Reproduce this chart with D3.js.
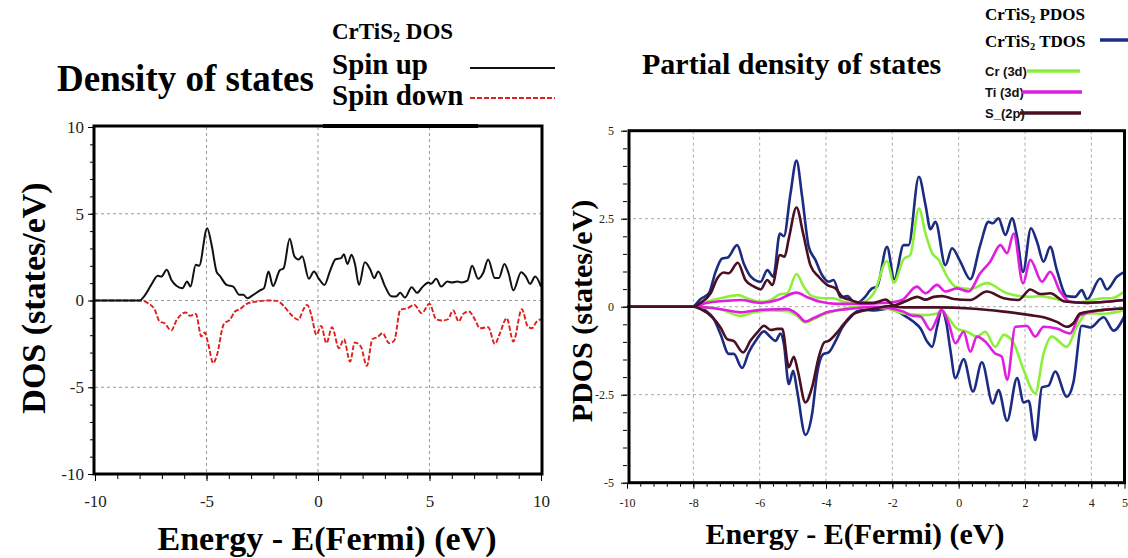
<!DOCTYPE html>
<html>
<head>
<meta charset="utf-8">
<title>CrTiS2 DOS / PDOS</title>
<script src="https://cdn.jsdelivr.net/npm/d3@7"></script>
<style>
  body { margin: 0; background: #fff; }
  svg { display: block; }
  .serif { font-family: "Liberation Serif", "Times New Roman", serif; }
  .sans { font-family: "Liberation Sans", Arial, sans-serif; }
</style>
</head>
<body>
<div id="chart"></div>
<script>
// ---- data ----

// left panel: total DOS, [energy, states/eV]
const spinUp = [[-10,0],[-8,0],[-7.78,0.27],[-7.48,0.9],[-7.18,1.42],[-7.03,1.38],[-6.78,1.77],[-6.58,1.2],[-6.35,0.85],
  [-6.08,0.71],[-5.87,1.1],[-5.72,0.8],[-5.48,2.06],[-5.33,2.0],[-4.97,4.17],[-4.77,3.2],[-4.55,1.67],[-4.4,1.42],
  [-4.1,0.9],[-3.8,0.8],[-3.53,0.33],[-3.35,0.33],[-3.17,0.13],[-2.9,0.33],[-2.6,0.58],[-2.42,0.71],[-2.22,1.67],
  [-2.02,0.83],[-1.72,1.73],[-1.54,1.86],[-1.27,3.56],[-1.06,2.55],[-0.87,2.36],[-0.71,2.55],[-0.41,1.25],[-0.18,1.67],
  [0.04,1.25],[0.29,0.9],[0.53,1.67],[0.79,2.38],[1.04,2.44],[1.16,2.67],[1.32,2.1],[1.5,2.63],[1.65,2.15],[1.84,0.9],
  [2.1,2.2],[2.34,1.8],[2.52,1.29],[2.7,1.67],[3.0,0.83],[3.28,0.25],[3.5,0.23],[3.69,0.44],[3.9,0.17],[4.2,0.77],
  [4.44,0.44],[4.7,0.8],[4.96,1.04],[5.07,0.96],[5.3,1.25],[5.52,0.8],[5.8,1.1],[6.0,1.04],[6.25,1.1],[6.42,1.04],
  [6.7,1.15],[6.91,2.0],[7.18,1.25],[7.41,1.6],[7.63,2.36],[7.93,1.29],[8.11,1.29],[8.36,2.1],[8.54,1.6],[8.76,0.58],
  [9.11,1.63],[9.32,1.38],[9.51,0.96],[9.74,1.38],[10,0.8]];

const spinDown = [[-10,0],[-8,0],[-7.63,-0.15],[-7.33,-0.5],[-7.1,-1.21],[-6.88,-1.31],[-6.58,-1.73],[-6.35,-1.15],
  [-5.93,-0.69],[-5.75,-0.88],[-5.48,-0.77],[-5.23,-2.07],[-5.08,-1.84],[-4.93,-2.46],[-4.7,-3.61],[-4.55,-3.23],
  [-4.22,-1.35],[-3.95,-1.11],[-3.72,-0.63],[-3.5,-0.5],[-3.2,-0.19],[-2.75,-0.06],[-2.29,0],[-1.84,-0.02],[-1.54,-0.31],
  [-1.24,-0.77],[-0.87,-1.11],[-0.68,-0.58],[-0.49,-0.25],[-0.3,-0.83],[-0.07,-1.98],[0.14,-1.46],[0.38,-2.46],
  [0.63,-1.54],[0.94,-2.75],[1.16,-2.23],[1.44,-3.52],[1.65,-2.42],[1.92,-2.65],[2.19,-3.77],[2.44,-2.23],[2.67,-2.11],
  [2.9,-1.88],[3.19,-2.46],[3.42,-2.31],[3.69,-0.54],[4.02,-0.44],[4.32,-0.25],[4.65,-0.73],[5.0,-0.19],[5.3,-1.08],
  [5.6,-1.15],[5.83,-1.08],[6.06,-0.58],[6.31,-1.21],[6.51,-0.77],[6.77,-0.63],[7.03,-1.08],[7.26,-1.6],[7.63,-1.54],
  [7.93,-2.5],[8.16,-1.88],[8.46,-1.02],[8.76,-2.36],[9.14,-0.5],[9.41,-1.5],[9.59,-1.6],[9.81,-1.21],[10,-1.08]];

// right panel: total and partial DOS, [energy, states/eV]
const tdosUp = [[-10,0],[-8.03,0],[-7.78,0.22],[-7.53,0.38],[-7.33,0.99],[-7.13,1.37],[-6.96,1.4],[-6.68,1.75],
  [-6.48,1.23],[-6.28,0.87],[-5.97,0.71],[-5.77,1.04],[-5.59,0.85],[-5.39,2.08],[-5.27,2.0],[-5.07,3.22],[-4.89,4.15],
  [-4.72,3.13],[-4.52,1.7],[-4.32,1.33],[-4.12,0.9],[-3.92,0.71],[-3.77,0.76],[-3.56,0.27],[-3.36,0.3],[-3.11,0.09],
  [-2.86,0.24],[-2.61,0.52],[-2.46,0.57],[-2.16,1.7],[-1.94,0.78],[-1.66,1.75],[-1.51,1.75],[-1.2,3.69],[-1.0,2.89],
  [-0.85,2.2],[-0.7,2.41],[-0.4,1.18],[-0.2,1.66],[0.05,1.28],[0.35,0.78],[0.65,1.75],[0.9,2.41],[1.03,2.37],[1.2,2.51],
  [1.41,2.04],[1.61,2.51],[1.76,1.99],[1.94,0.99],[2.18,2.23],[2.36,1.85],[2.56,1.28],[2.76,1.7],[2.96,1.04],[3.26,0.3],
  [3.51,0.28],[3.71,0.47],[3.87,0.21],[4.27,0.8],[4.47,0.49],[4.77,0.85],[5,0.99]];
const tdosDown = [[-10,0],[-7.88,0],[-7.63,-0.11],[-7.38,-0.35],[-7.18,-0.78],[-6.93,-1.34],[-6.78,-1.34],[-6.53,-1.74],
  [-6.33,-1.3],[-6.12,-0.97],[-5.87,-0.7],[-5.67,-0.87],[-5.52,-0.97],[-5.37,-0.76],[-5.27,-1.06],[-5.12,-2.2],
  [-4.99,-1.82],[-4.87,-2.39],[-4.62,-3.64],[-4.42,-3.05],[-4.27,-1.91],[-4.07,-1.34],[-3.92,-1.3],[-3.71,-0.97],
  [-3.51,-0.59],[-3.26,-0.3],[-3.06,-0.13],[-2.76,-0.09],[-2.56,-0.11],[-2.06,-0.05],[-1.66,-0.24],[-1.36,-0.43],
  [-1.15,-0.62],[-0.95,-0.99],[-0.8,-1.14],[-0.65,-0.57],[-0.52,-0.1],[-0.37,-0.47],[-0.25,-1.23],[-0.1,-2.03],
  [0.15,-1.49],[0.43,-2.41],[0.7,-1.58],[1.03,-2.75],[1.2,-2.37],[1.46,-3.24],[1.76,-2.03],[1.96,-2.72],[2.11,-2.67],
  [2.31,-3.79],[2.51,-2.29],[2.71,-2.24],[2.91,-1.84],[3.26,-2.56],[3.46,-2.15],[3.71,-0.54],[3.97,-0.59],[4.37,-0.3],
  [4.67,-0.68],[5,-0.26]];

const crUp = [[-10,0],[-7.9,0],[-7.58,0.14],[-7.18,0.24],[-6.63,0.33],[-6.38,0.24],[-5.97,0.14],[-5.67,0.19],[-5.37,0.36],
  [-5.17,0.38],[-4.89,0.93],[-4.67,0.57],[-4.42,0.3],[-4.07,0.24],[-3.77,0.24],[-3.46,0.14],[-2.96,0.11],[-2.56,0.38],
  [-2.16,1.3],[-1.96,0.68],[-1.66,1.35],[-1.46,1.47],[-1.2,2.79],[-1.0,2.08],[-0.8,1.52],[-0.6,1.33],[-0.45,1.04],
  [-0.3,0.78],[-0.05,0.55],[0.35,0.5],[0.85,0.67],[1.46,0.38],[2.16,0.28],[2.46,0.3],[3.06,0.19],[3.6,0.12],[4.37,0.24],
  [4.6,0.24],[5,0.44]];
const crDown = [[-10,0],[-7.9,0],[-7.68,-0.02],[-7.18,-0.07],[-6.58,-0.26],[-6.17,-0.16],[-5.67,-0.11],[-5.17,-0.13],
  [-4.87,-0.26],[-4.62,-0.45],[-4.37,-0.35],[-3.97,-0.19],[-3.56,-0.07],[-2.96,0],[-2.2,-0.05],[-1.66,-0.19],
  [-1.05,-0.24],[-0.65,-0.19],[-0.53,-0.12],[-0.05,-0.62],[0.25,-0.71],[0.55,-0.85],[0.8,-0.71],[1.1,-1.14],[1.36,-0.8],
  [1.66,-1.04],[1.96,-1.8],[2.31,-2.46],[2.56,-1.33],[2.81,-0.85],[3.26,-1.14],[3.56,-0.57],[3.87,-0.19],[4.37,-0.2],
  [5,-0.1]];

const tiUp = [[-10,0],[-7.9,0],[-7.68,0.09],[-6.98,0.17],[-6.58,0.19],[-5.97,0.11],[-5.47,0.19],[-4.89,0.4],[-4.57,0.27],
  [-4.17,0.14],[-3.66,0.08],[-2.96,0.08],[-2.16,0.11],[-1.71,0.19],[-1.26,0.57],[-1.0,0.38],[-0.65,0.62],[-0.4,0.43],
  [-0.05,0.52],[0.3,0.43],[0.65,0.95],[0.95,1.28],[1.26,1.75],[1.46,1.52],[1.66,2.08],[1.94,0.66],[2.16,1.33],
  [2.51,0.71],[2.76,0.99],[3.06,0.43],[3.36,0.14],[3.87,0.11],[4.47,0.14],[5,0.19]];
const tiDown = [[-10,0],[-7.9,0],[-7.18,-0.07],[-6.58,-0.16],[-5.97,-0.09],[-5.17,-0.07],[-4.87,-0.21],[-4.62,-0.42],
  [-4.37,-0.32],[-3.97,-0.16],[-3.36,-0.07],[-2.56,0],[-1.66,-0.14],[-1.46,-0.24],[-1.15,-0.28],[-0.85,-0.66],
  [-0.65,-0.33],[-0.53,-0.09],[-0.3,-0.47],[-0.1,-1.04],[0.15,-0.71],[0.35,-1.28],[0.55,-0.85],[0.8,-0.99],[1.1,-1.33],
  [1.3,-1.42],[1.46,-2.08],[1.71,-0.57],[2.06,-0.55],[2.31,-0.85],[2.56,-0.57],[2.96,-0.62],[3.36,-0.76],[3.66,-0.24],
  [4.37,-0.09],[5,-0.05]];

const sUp = [[-10,0],[-8,0],[-7.78,0.11],[-7.48,0.38],[-7.28,0.8],[-7.08,0.97],[-6.93,0.95],[-6.66,1.25],[-6.43,0.76],
  [-6.17,0.57],[-5.97,0.49],[-5.77,0.76],[-5.62,0.62],[-5.39,1.47],[-5.25,1.42],[-5.12,1.94],[-4.89,2.82],[-4.69,2.08],
  [-4.47,1.18],[-4.22,0.85],[-3.97,0.62],[-3.71,0.52],[-3.51,0.28],[-3.26,0.19],[-2.96,0.11],[-2.56,0.11],[-2.2,0.2],
  [-1.96,0.04],[-1.5,0.2],[-1.25,0.28],[-1.0,0.2],[-0.75,0.28],[-0.5,0.3],[-0.15,0.22],[0.35,0.19],[0.85,0.43],
  [1.36,0.24],[1.8,0.19],[2.16,0.49],[2.46,0.36],[2.76,0.38],[3.2,0.15],[3.87,0.11],[4.47,0.14],[5,0.19]];
const sDown = [[-10,0],[-8,0],[-7.78,-0.07],[-7.43,-0.3],[-7.18,-0.59],[-6.98,-0.92],[-6.78,-0.98],[-6.5,-1.3],
  [-6.28,-0.97],[-6.07,-0.73],[-5.87,-0.54],[-5.67,-0.66],[-5.47,-0.63],[-5.32,-0.63],[-5.12,-1.72],[-4.97,-1.42],
  [-4.85,-1.82],[-4.62,-2.72],[-4.42,-2.29],[-4.22,-1.44],[-4.05,-1.01],[-3.92,-0.97],[-3.71,-0.78],[-3.46,-0.49],
  [-3.21,-0.23],[-2.86,-0.11],[-2.46,-0.04],[-2.1,0.02],[-1.66,-0.02],[-0.65,-0.02],[0.35,-0.05],[1.36,-0.14],
  [2.16,-0.24],[2.56,-0.3],[2.96,-0.43],[3.26,-0.57],[3.46,-0.47],[3.66,-0.19],[4.37,-0.09],[5,-0.05]];

// tick labels
const leftTicks = [-10, -5, 0, 5, 10];
const rightXTicks = [-10, -8, -6, -4, -2, 0, 2, 4, 5];
const rightYTicks = [-5, -2.5, 0, 2.5, 5];

// series for the partial DOS legend / drawing order
const pdosSeries = [
  {name: "CrTiS2 TDOS", up: tdosUp, down: tdosDown, color: "#1c2c82"},
  {name: "Cr (3d)", up: crUp, down: crDown, color: "#8cf03a"},
  {name: "Ti (3d)", up: tiUp, down: tiDown, color: "#e01ee0"},
  {name: "S_(2p)", up: sUp, down: sDown, color: "#4a0f22"}
];

// ---- drawing ----
const width = 1128, height = 558;
const svg = d3.select("#chart").append("svg")
  .attr("width", width).attr("height", height)
  .attr("viewBox", [0, 0, width, height]);

const plain = d => String(d);   // keep ascii hyphen for negatives

function subText(g, x, y, size, before, sub, after, cls, weight) {
  const t = g.append("text").attr("class", cls).attr("x", x).attr("y", y)
    .attr("font-size", size).attr("font-weight", weight).attr("fill", "#000");
  t.append("tspan").text(before);
  t.append("tspan").attr("font-size", size * 0.62).attr("dy", size * 0.15).text(sub);
  t.append("tspan").attr("dy", -size * 0.15).text(after);
  return t;
}

function styleAxis(g, fontSize) {
  g.select(".domain").remove();
  g.selectAll(".tick line").attr("stroke", "#000").attr("stroke-width", 1);
  g.selectAll(".tick text").attr("class", "serif").attr("font-size", fontSize).attr("fill", "#222");
}

// ---------- left panel ----------
(function leftPanel() {
  const x = d3.scaleLinear().domain([-10, 10]).range([95, 541]);
  const y = d3.scaleLinear().domain([-10, 10]).range([474, 127]);
  const g = svg.append("g");

  // grid
  g.append("g").selectAll("line").data([-5, 0, 5]).join("line")
    .attr("x1", d => x(d)).attr("x2", d => x(d)).attr("y1", y(10)).attr("y2", y(-10))
    .attr("stroke", "#999").attr("stroke-dasharray", "3,3");
  g.append("g").selectAll("line").data([-5, 0, 5]).join("line")
    .attr("x1", x(-10)).attr("x2", x(10)).attr("y1", d => y(d)).attr("y2", d => y(d))
    .attr("stroke", "#999").attr("stroke-dasharray", "3,3");

  // minor + major ticks
  const minor = d3.range(-10, 10.01, 1);
  g.append("g").attr("transform", `translate(0,${y(-10)})`)
    .call(d3.axisBottom(x).tickValues(minor).tickSize(5).tickFormat(""))
    .call(a => styleAxis(a, 17));
  g.append("g").attr("transform", `translate(${x(-10)},0)`)
    .call(d3.axisLeft(y).tickValues(minor).tickSize(5).tickFormat(""))
    .call(a => styleAxis(a, 17));
  g.append("g").attr("transform", `translate(0,${y(-10)})`)
    .call(d3.axisBottom(x).tickValues(leftTicks).tickSize(7).tickPadding(14).tickFormat(plain))
    .call(a => styleAxis(a, 17));
  g.append("g").attr("transform", `translate(${x(-10)},0)`)
    .call(d3.axisLeft(y).tickValues(leftTicks).tickSize(7).tickPadding(4).tickFormat(plain))
    .call(a => styleAxis(a, 17));

  const line = d3.line().x(d => x(d[0])).y(d => y(d[1])).curve(d3.curveMonotoneX);
  g.append("path").datum(spinDown).attr("d", line)
    .attr("fill", "none").attr("stroke", "#e0201a").attr("stroke-width", 1.9).attr("stroke-dasharray", "5,2");
  g.append("path").datum(spinUp).attr("d", line)
    .attr("fill", "none").attr("stroke", "#111").attr("stroke-width", 2);

  // frame
  g.append("rect").attr("x", x(-10) - 1).attr("y", y(10) - 1)
    .attr("width", x(10) - x(-10) + 2).attr("height", y(-10) - y(10) + 1)
    .attr("fill", "none").attr("stroke", "#000").attr("stroke-width", 3);
  // edge of the overlapping legend box
  g.append("line").attr("x1", 323).attr("x2", 478).attr("y1", 126).attr("y2", 126)
    .attr("stroke", "#000").attr("stroke-width", 4);

  // titles
  g.append("text").attr("class", "serif").attr("x", 57).attr("y", 91)
    .attr("font-size", 37).attr("font-weight", "bold").text("Density of states");
  subText(g, 332, 39, 23, "CrTiS", "2", " DOS", "serif", "bold");
  g.append("text").attr("class", "serif").attr("x", 332).attr("y", 74)
    .attr("font-size", 29).attr("font-weight", "bold").text("Spin up");
  g.append("text").attr("class", "serif").attr("x", 332).attr("y", 105)
    .attr("font-size", 29).attr("font-weight", "bold").text("Spin down");
  g.append("line").attr("x1", 470).attr("x2", 555).attr("y1", 68).attr("y2", 68)
    .attr("stroke", "#111").attr("stroke-width", 2);
  g.append("line").attr("x1", 470).attr("x2", 555).attr("y1", 98).attr("y2", 98)
    .attr("stroke", "#e0201a").attr("stroke-width", 1.9).attr("stroke-dasharray", "5,2");

  g.append("text").attr("class", "serif").attr("text-anchor", "middle")
    .attr("transform", "translate(45,298) rotate(-90)")
    .attr("font-size", 34).attr("font-weight", "bold").text("DOS (states/eV)");
  g.append("text").attr("class", "serif").attr("text-anchor", "middle")
    .attr("x", 327).attr("y", 550)
    .attr("font-size", 34).attr("font-weight", "bold").text("Energy - E(Fermi) (eV)");
})();

// ---------- right panel ----------
(function rightPanel() {
  const x = d3.scaleLinear().domain([-10, 5]).range([627, 1124.5]);
  const y = d3.scaleLinear().domain([-5, 5]).range([482.7, 130.7]);
  const g = svg.append("g");

  g.append("g").selectAll("line").data([-8, -6, -4, -2, 0, 2, 4]).join("line")
    .attr("x1", d => x(d)).attr("x2", d => x(d)).attr("y1", y(5)).attr("y2", y(-5))
    .attr("stroke", "#aaa").attr("stroke-dasharray", "3,3");
  g.append("g").selectAll("line").data([-2.5, 0, 2.5]).join("line")
    .attr("x1", x(-10)).attr("x2", x(5)).attr("y1", d => y(d)).attr("y2", d => y(d))
    .attr("stroke", "#aaa").attr("stroke-dasharray", "3,3");

  g.append("g").attr("transform", `translate(0,${y(-5)})`)
    .call(d3.axisBottom(x).tickValues(d3.range(-10, 5.01, 0.4)).tickSize(4).tickFormat(""))
    .call(a => styleAxis(a, 12));
  g.append("g").attr("transform", `translate(0,${y(-5)})`)
    .call(d3.axisBottom(x).tickValues(rightXTicks).tickSize(6).tickPadding(10).tickFormat(plain))
    .call(a => styleAxis(a, 12));
  g.append("g").attr("transform", `translate(${x(-10)},0)`)
    .call(d3.axisLeft(y).tickValues(d3.range(-5, 5.01, 0.5)).tickSize(4).tickFormat(""))
    .call(a => styleAxis(a, 12));
  g.append("g").attr("transform", `translate(${x(-10)},0)`)
    .call(d3.axisLeft(y).tickValues(rightYTicks).tickSize(6).tickPadding(7).tickFormat(plain))
    .call(a => styleAxis(a, 12));

  const line = d3.line().x(d => x(d[0])).y(d => y(d[1])).curve(d3.curveMonotoneX);
  pdosSeries.forEach(s => {
    [s.up, s.down].forEach(pts => {
      g.append("path").datum(pts).attr("d", line)
        .attr("fill", "none").attr("stroke", s.color).attr("stroke-width", 2.6)
        .attr("stroke-linejoin", "round");
    });
  });

  g.append("rect").attr("x", x(-10) + 2).attr("y", y(5))
    .attr("width", x(5) - x(-10) - 2).attr("height", y(-5) - y(5))
    .attr("fill", "none").attr("stroke", "#000").attr("stroke-width", 3);

  g.append("text").attr("class", "serif").attr("x", 642).attr("y", 74)
    .attr("font-size", 30).attr("font-weight", "bold").text("Partial density of states");

  // legend
  subText(g, 985, 20, 17, "CrTiS", "2", " PDOS", "serif", "bold");
  subText(g, 985, 47, 17, "CrTiS", "2", " TDOS", "serif", "bold");
  g.append("line").attr("x1", 1100).attr("x2", 1128).attr("y1", 40).attr("y2", 40)
    .attr("stroke", pdosSeries[0].color).attr("stroke-width", 3.5);
  const legendRows = pdosSeries.slice(1);
  const legY = [76, 97, 118];
  const legX = [[1027, 1080], [1022, 1082], [1020, 1081]];
  legendRows.forEach((s, i) => {
    g.append("text").attr("class", "sans").attr("x", 985).attr("y", legY[i])
      .attr("font-size", 13).attr("font-weight", "bold").attr("fill", "#111").text(s.name);
    g.append("line").attr("x1", legX[i][0]).attr("x2", legX[i][1])
      .attr("y1", legY[i] - 5).attr("y2", legY[i] - 5)
      .attr("stroke", s.color).attr("stroke-width", 3.5);
  });

  g.append("text").attr("class", "serif").attr("text-anchor", "middle")
    .attr("transform", "translate(592,311) rotate(-90)")
    .attr("font-size", 30).attr("font-weight", "bold").text("PDOS (states/eV)");
  g.append("text").attr("class", "serif").attr("text-anchor", "middle")
    .attr("x", 855).attr("y", 544)
    .attr("font-size", 30).attr("font-weight", "bold").text("Energy - E(Fermi) (eV)");
})();
</script>
</body>
</html>
